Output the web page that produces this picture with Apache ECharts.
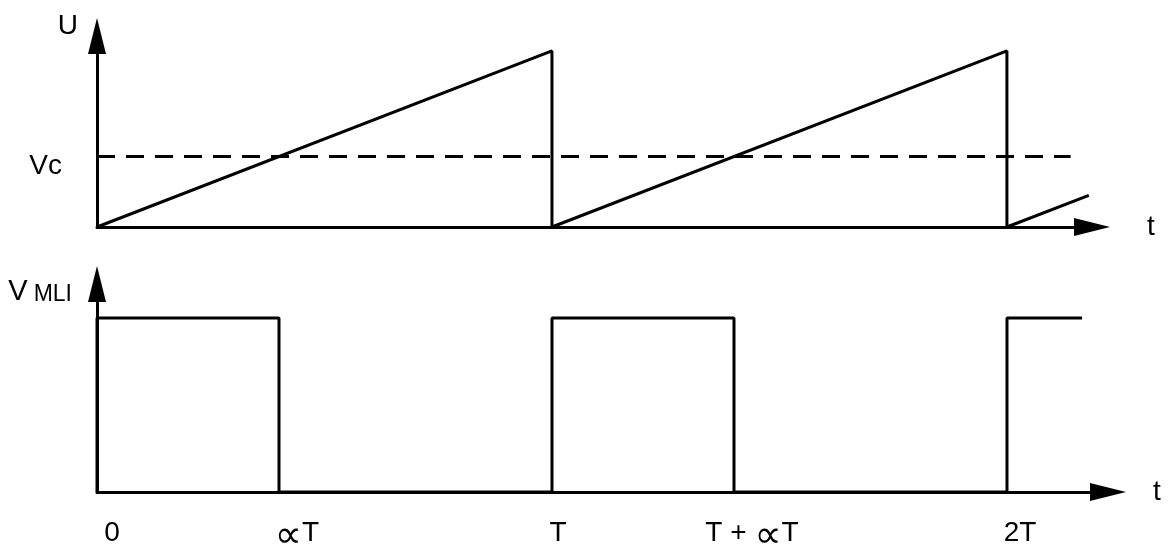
<!DOCTYPE html>
<html>
<head>
<meta charset="utf-8">
<script src="https://cdn.jsdelivr.net/npm/echarts@6/dist/echarts.min.js"></script>
<style>
  html, body { margin: 0; padding: 0; background: #fff; }
  #main { width: 1170px; height: 552px; }
</style>
</head>
<body>
<div id="main"></div>
<script>
// time in units of T, voltages normalised (Umax = 1)
const sawPoints = [[0, 0], [1, 1], [1, 0], [2, 1], [2, 0], [2.18, 0.18]]
const vcLevel = 0.4
const vcLine = [[0, vcLevel], [2.14, vcLevel]]
const pwmPoints = [[0, 0], [0, 1], [0.4, 1], [0.4, 0], [1, 0], [1, 1], [1.4, 1], [1.4, 0], [2, 0], [2, 1], [2.165, 1]]
const tickValues = [0, 0.4, 1, 1.4, 2]
const tickNames = ['0', '∝T', 'T', 'T + ∝T', '2T']
// shift of each label to the right of its tick (px)
const tickShift = [15, 18, 6, 18, 13]

const FONT = 'Liberation Sans, Arial, DejaVu Sans, sans-serif'
const black = '#000'

const axisLine = {
  show: true,
  symbol: ['none', 'triangle'],
  symbolSize: [18, 36],
  lineStyle: { color: black, width: 3 }
}

// split label into plain text / ∝ pieces, first piece carries the shift
const rich = {
  n: { fontSize: 28, fontFamily: FONT, color: black, lineHeight: 30 },
  p: { fontSize: 38, fontFamily: 'DejaVu Sans', color: black, lineHeight: 30, verticalAlign: 'top' }
}
const tickRich = tickNames.map((name, i) => {
  const parts = name.split(/(∝)/).filter(s => s !== '')
  return parts.map((s, j) => {
    let key = s === '∝' ? 'p' : 'n'
    if (j === 0) {
      const k = key + i
      rich[k] = Object.assign({}, rich[key], { padding: [0, 0, 0, tickShift[i] * 2] })
      key = k
    }
    return '{' + key + '|' + s + '}'
  }).join('')
})

const chart = echarts.init(document.getElementById('main'), null, { renderer: 'canvas' })

chart.setOption({
  animation: false,
  backgroundColor: '#fff',
  textStyle: { fontFamily: FONT, color: black },
  grid: [
    { left: 97, right: 78, top: 36, bottom: 325, outerBoundsMode: 'none' },
    { left: 97, right: 62, top: 284, bottom: 60, outerBoundsMode: 'none' }
  ],
  xAxis: [
    {
      gridIndex: 0, type: 'value', min: 0, max: 2.187,
      axisLine,
      axisTick: { show: false },
      axisLabel: { show: false },
      splitLine: { show: false },
      name: 't', nameLocation: 'end', nameGap: 55,
      nameTextStyle: { fontSize: 28, fontFamily: FONT, color: black, padding: [14, 0, 0, 0] }
    },
    {
      gridIndex: 1, type: 'value', min: 0, max: 2.222,
      axisLine,
      axisTick: { show: false },
      splitLine: { show: false },
      axisLabel: {
        customValues: tickValues,
        margin: 26,
        formatter (v) {
          const i = tickValues.indexOf(v)
          return i < 0 ? '' : tickRich[i]
        },
        rich
      },
      name: 't', nameLocation: 'end', nameGap: 45,
      nameTextStyle: { fontSize: 28, fontFamily: FONT, color: black, padding: [12, 0, 0, 0] }
    }
  ],
  yAxis: [
    {
      gridIndex: 0, type: 'value', min: 0, max: 1.085,
      axisLine,
      axisTick: { show: false },
      splitLine: { show: false },
      axisLabel: {
        customValues: [vcLevel],
        formatter: () => '{a|Vc}',
        margin: 35,
        rich: {
          a: { fontSize: 28, fontFamily: FONT, color: black, padding: [20, 0, 0, 0] }
        }
      },
      name: 'U', nameLocation: 'end', nameGap: 10,
      nameTextStyle: {
        fontSize: 28, fontFamily: FONT, color: black,
        align: 'right', verticalAlign: 'middle', padding: [0, 19, 0, 0]
      }
    },
    {
      gridIndex: 1, type: 'value', min: 0, max: 1.195,
      axisLine,
      axisTick: { show: false },
      splitLine: { show: false },
      axisLabel: { show: false },
      name: '{v|V}{s|MLI}', nameLocation: 'end', nameGap: -8,
      nameTextStyle: {
        align: 'right', verticalAlign: 'middle', padding: [0, 25, 0, 0],
        rich: {
          v: { fontSize: 29, fontFamily: FONT, color: black },
          s: { fontSize: 23, fontFamily: FONT, color: black, verticalAlign: 'bottom', padding: [0, 0, 0, 6] }
        }
      }
    }
  ],
  series: [
    {
      type: 'line', xAxisIndex: 0, yAxisIndex: 0,
      data: sawPoints, showSymbol: false, clip: false,
      lineStyle: { color: black, width: 3 }
    },
    {
      type: 'line', xAxisIndex: 0, yAxisIndex: 0,
      data: vcLine, showSymbol: false,
      lineStyle: { color: black, width: 3, type: [18, 11] }
    },
    {
      type: 'line', xAxisIndex: 1, yAxisIndex: 1,
      data: pwmPoints, showSymbol: false, clip: false,
      lineStyle: { color: black, width: 3 }
    }
  ]
})
</script>
</body>
</html>
